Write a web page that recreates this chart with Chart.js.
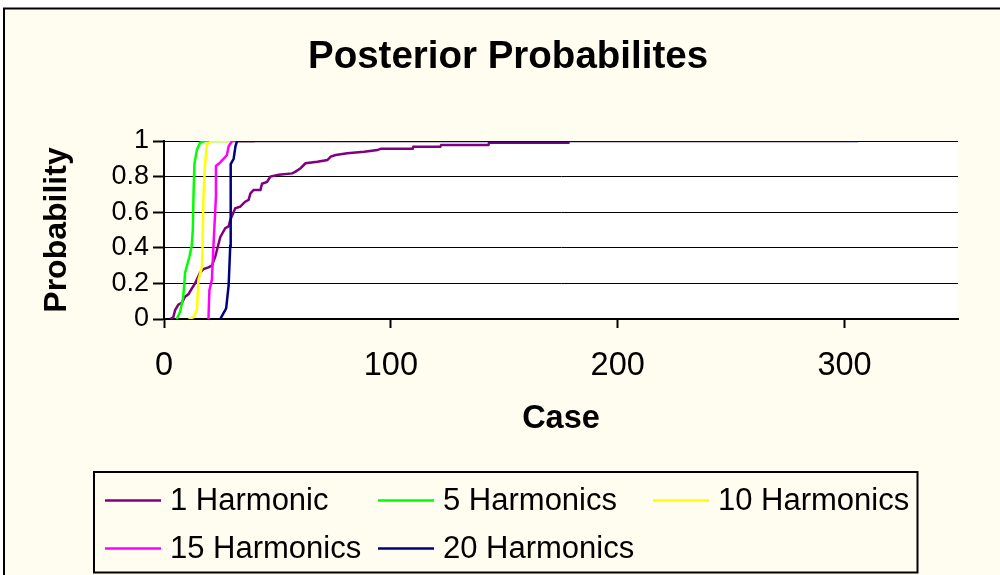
<!DOCTYPE html>
<html>
<head>
<meta charset="utf-8">
<title>Posterior Probabilites</title>
<script src="https://cdn.jsdelivr.net/npm/chart.js@4.4.1/dist/chart.umd.min.js"></script>
<style>
  html, body { margin: 0; padding: 0; background: #fff; }
  canvas { display: block; }
</style>
</head>
<body>
<canvas id="posteriorChart" width="1000" height="575"></canvas>
<script>
const chartTitle = 'Posterior Probabilites';
const xTitle = 'Case';
const yTitle = 'Probability';
const xTickValues = [0, 100, 200, 300];
const yTickValues = [0, 0.2, 0.4, 0.6, 0.8, 1];

const seriesNames = ['1 Harmonic', '5 Harmonics', '10 Harmonics', '15 Harmonics', '20 Harmonics'];
const seriesColors = ['#800080', '#00ff00', '#ffff00', '#ff00ff', '#000080'];

// cumulative posterior probability per case
const h1Case = [2.7, 4.1, 4.9, 6.3, 7.8, 9.3, 10.8, 12.2, 13.7, 15.9, 17.4, 19.6, 21.1, 22.6, 24.8, 27.0, 28.5, 29.2, 31.4, 33.6, 35.8, 37.3, 38.1, 39.5, 42.5, 43.2, 45.4, 46.9, 50.6, 56.5, 58.0, 60.2, 62.4, 67.6, 72.0, 73.5, 75.7, 80.8, 88.2, 94.1, 95.6, 109.6, 109.9, 121.8, 122.2, 143.0, 143.3, 178.8];
const h1Prob = [0, 0.01, 0.05, 0.08, 0.09, 0.125, 0.14, 0.17, 0.2, 0.26, 0.28, 0.29, 0.3, 0.35, 0.46, 0.51, 0.52, 0.556, 0.622, 0.631, 0.659, 0.669, 0.706, 0.725, 0.725, 0.76, 0.77, 0.8, 0.81, 0.818, 0.828, 0.847, 0.875, 0.884, 0.893, 0.912, 0.921, 0.931, 0.94, 0.949, 0.957, 0.957, 0.968, 0.968, 0.978, 0.978, 0.99, 0.99];

const h5Case = [5.6, 7.1, 8.5, 9.3, 11.2, 12.2, 12.7, 13.0, 13.4, 14.5, 15.9, 18.0, 40];
const h5Prob = [0, 0.04, 0.125, 0.26, 0.35, 0.41, 0.5, 0.69, 0.87, 0.95, 0.99, 1, 1];

const h10Case = [10.8, 13.0, 14.5, 15.2, 16.7, 17.0, 17.4, 18.1, 18.9, 21.0, 40];
const h10Prob = [0, 0.01, 0.05, 0.22, 0.29, 0.41, 0.69, 0.87, 0.98, 1, 1];

const h15Case = [19.6, 20.0, 21.1, 21.8, 22.9, 22.9, 24.0, 24.8, 27.7, 28.5, 30.0, 40];
const h15Prob = [0, 0.16, 0.22, 0.41, 0.69, 0.86, 0.87, 0.88, 0.92, 0.97, 1, 1];

const h20Case = [24.8, 27.4, 28.5, 29.2, 29.4, 30.7, 31.5, 32.2, 306];
const h20Prob = [0, 0.06, 0.19, 0.41, 0.87, 0.9, 0.97, 1, 1];

const seriesCases = [h1Case, h5Case, h10Case, h15Case, h20Case];
const seriesProbs = [h1Prob, h5Prob, h10Prob, h15Prob, h20Prob];

const fontFamily = "'Liberation Sans', Arial, sans-serif";
Chart.defaults.font.family = fontFamily;
Chart.defaults.color = '#000';

function toPoints(cases, probs) {
  return cases.map((c, i) => ({ x: c, y: probs[i] }));
}

const datasets = seriesNames.map((name, i) => ({
  label: name,
  data: toPoints(seriesCases[i], seriesProbs[i]),
  borderColor: seriesColors[i],
  backgroundColor: seriesColors[i],
  borderWidth: 2.5,
  pointRadius: 0,
  showLine: true,
  tension: 0,
  // later series sit on top, first one underneath
  order: seriesNames.length - i
}));

// frame, plot background, title and the boxed legend
const excelFrame = {
  id: 'excelFrame',
  beforeDraw(chart) {
    const { ctx, chartArea: a } = chart;
    ctx.save();
    ctx.fillStyle = '#fff';
    ctx.fillRect(0, 0, chart.width, chart.height);
    ctx.fillStyle = '#fffdf0';
    ctx.fillRect(4, 8.5, chart.width, chart.height);
    ctx.strokeStyle = '#000';
    ctx.lineWidth = 2;
    ctx.strokeRect(4, 8.5, chart.width + 10, chart.height + 10);
    ctx.fillStyle = '#fff';
    ctx.fillRect(a.left, a.top, a.right - a.left, a.bottom - a.top);
    ctx.restore();
  },
  afterDraw(chart) {
    const { ctx } = chart;
    ctx.save();
    ctx.fillStyle = '#000';
    ctx.font = 'bold 38.5px ' + fontFamily;
    ctx.textAlign = 'center';
    ctx.textBaseline = 'middle';
    ctx.fillText(chartTitle, 508, 57);

    // legend box
    ctx.strokeStyle = '#000';
    ctx.lineWidth = 2;
    ctx.strokeRect(94, 472, 823.5, 100.5);
    const colX = [105, 378, 653];
    const rowY = [501.5, 549.5];
    ctx.font = '31px ' + fontFamily;
    ctx.textAlign = 'left';
    chart.data.datasets.forEach((ds, i) => {
      const x = colX[i % 3];
      const y = rowY[Math.floor(i / 3)];
      ctx.strokeStyle = ds.borderColor;
      ctx.lineWidth = 2.5;
      ctx.beginPath();
      ctx.moveTo(x, y - 1);
      ctx.lineTo(x + 56, y - 1);
      ctx.stroke();
      ctx.fillStyle = '#000';
      ctx.fillText(ds.label, x + 65, y);
    });
    ctx.restore();
  }
};

new Chart(document.getElementById('posteriorChart'), {
  type: 'scatter',
  data: { datasets },
  options: {
    responsive: false,
    animation: false,
    layout: { padding: { top: 141, left: 0, right: 42, bottom: 135 } },
    plugins: {
      legend: { display: false },
      title: { display: false },
      tooltip: { enabled: false }
    },
    scales: {
      x: {
        type: 'linear',
        min: 0,
        max: 350,
        afterFit(scale) { scale.height = 121; },
        afterBuildTicks(scale) {
          scale.ticks = xTickValues.map(v => ({ value: v }));
        },
        grid: {
          drawOnChartArea: false,
          drawTicks: true,
          tickLength: 9,
          tickWidth: 2,
          tickColor: '#000'
        },
        border: { display: true, color: '#000', width: 2 },
        ticks: {
          padding: 19,
          color: '#000',
          font: { size: 32.5 },
          maxRotation: 0,
          autoSkip: false
        },
        title: {
          display: true,
          text: xTitle,
          color: '#000',
          font: { size: 32.5, weight: 'bold' },
          padding: { top: 0, bottom: 1 }
        }
      },
      y: {
        min: 0,
        max: 1,
        afterFit(scale) { scale.width = 164; },
        afterBuildTicks(scale) {
          scale.ticks = yTickValues.map(v => ({ value: v }));
        },
        ticks: {
          padding: 4,
          color: '#000',
          font: { size: 27 },
          autoSkip: false,
          callback: v => String(Number(v.toFixed(1)))
        },
        grid: {
          color: '#000',
          lineWidth: 1,
          tickLength: 11,
          tickWidth: 2,
          tickColor: '#000'
        },
        border: { display: true, color: '#000', width: 2 },
        title: {
          display: true,
          text: yTitle,
          color: '#000',
          font: { size: 32, weight: 'bold' },
          padding: { top: 38, bottom: 0 }
        }
      }
    }
  },
  plugins: [excelFrame]
});
</script>
</body>
</html>
